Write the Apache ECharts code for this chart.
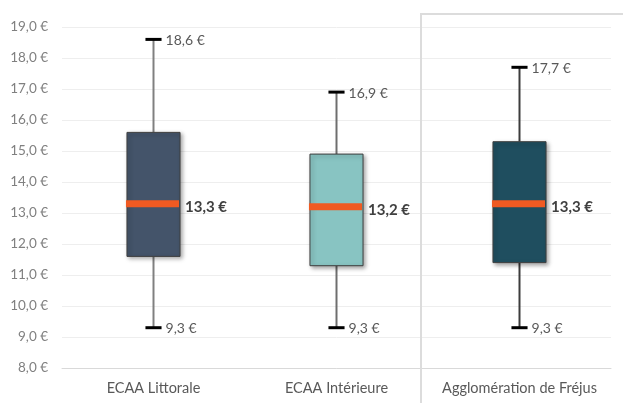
<!DOCTYPE html>
<html>
<head>
<meta charset="utf-8">
<script src="https://cdn.jsdelivr.net/npm/echarts@6/dist/echarts.min.js"></script>
<style>
  html, body { margin: 0; padding: 0; background: #fff; }
  #chart { width: 623px; height: 403px; }
</style>
</head>
<body>
<div id="chart"></div>
<script>
// Hourly price distribution per area (€)
const categories = ['ECAA Littorale', 'ECAA Intérieure', 'Agglomération de Fréjus'];
const minValues = [9.3, 9.3, 9.3];
const q1Values = [11.6, 11.3, 11.4];
const medianValues = [13.3, 13.2, 13.3];
const q3Values = [15.6, 14.9, 15.3];
const maxValues = [18.6, 16.9, 17.7];

const boxColors = ['#44546A', '#88C4C2', '#1F4E5F'];
const whiskerColors = ['#808080', '#6e6e6e', '#3c3c3c'];
const FONT = 'Lato, "Open Sans", sans-serif';

const euro = v => v.toFixed(1).replace('.', ',') + ' €';

const seriesData = categories.map((c, i) => [i, minValues[i], q1Values[i], medianValues[i], q3Values[i], maxValues[i]]);

function renderBox(params, api) {
  const i = api.value(0);
  const x = api.coord([i, 0])[0];
  const yMin = api.coord([i, api.value(1)])[1];
  const yQ1 = api.coord([i, api.value(2)])[1];
  const yMed = api.coord([i, api.value(3)])[1];
  const yQ3 = api.coord([i, api.value(4)])[1];
  const yMax = api.coord([i, api.value(5)])[1];
  const band = api.size([1, 0])[0];
  const boxW = band * 0.29;
  const capW = band * 0.088;
  const left = x - boxW / 2;
  const wc = whiskerColors[i];
  const labelX = x + capW / 2 + 4;
  return {
    type: 'group',
    children: [
      { type: 'line', shape: { x1: x, y1: yQ3, x2: x, y2: yMax }, style: { stroke: wc, lineWidth: 2 } },
      { type: 'line', shape: { x1: x, y1: yQ1, x2: x, y2: yMin }, style: { stroke: wc, lineWidth: 2 } },
      { type: 'line', shape: { x1: x - capW / 2, y1: yMax, x2: x + capW / 2, y2: yMax }, style: { stroke: '#000', lineWidth: 3 } },
      { type: 'line', shape: { x1: x - capW / 2, y1: yMin, x2: x + capW / 2, y2: yMin }, style: { stroke: '#000', lineWidth: 3 } },
      {
        type: 'rect',
        shape: { x: left, y: yQ3, width: boxW, height: yQ1 - yQ3 },
        style: {
          fill: boxColors[i], stroke: '#3f3f3f', lineWidth: 1,
          shadowBlur: 4, shadowOffsetX: 2, shadowOffsetY: 2, shadowColor: 'rgba(0,0,0,0.35)'
        }
      },
      { type: 'rect', shape: { x: left - 1, y: yMed - 3.5, width: boxW, height: 7 }, style: { fill: '#F05A22' } },
      { type: 'text', style: { text: euro(api.value(5)), x: labelX, y: yMax + 1, verticalAlign: 'middle', fill: '#595959', font: '14px ' + FONT } },
      { type: 'text', style: { text: euro(api.value(1)), x: labelX, y: yMin + 1, verticalAlign: 'middle', fill: '#595959', font: '14px ' + FONT } },
      { type: 'text', style: { text: euro(api.value(3)), x: left + boxW + 5, y: yMed + 3, verticalAlign: 'middle', fill: '#404040', font: 'bold 15px ' + FONT } }
    ]
  };
}

const chart = echarts.init(document.getElementById('chart'), null, { renderer: 'canvas' });
chart.setOption({
  animation: false,
  backgroundColor: '#ffffff',
  grid: { left: 62, right: 12, top: 27, bottom: 35, containLabel: false },
  xAxis: {
    type: 'category',
    data: categories,
    axisTick: { show: false },
    axisLine: { lineStyle: { color: '#d9d9d9', width: 1 } },
    axisLabel: { color: '#595959', fontSize: 14.5, fontFamily: FONT, margin: 13, interval: 0, hideOverlap: false }
  },
  yAxis: {
    type: 'value',
    min: 8, max: 19, interval: 1,
    axisLine: { show: false },
    axisTick: { show: false },
    axisLabel: { color: '#808080', fontSize: 13.5, fontFamily: FONT, margin: 14, formatter: v => euro(v) },
    splitLine: { lineStyle: { color: '#eeeeee', width: 1 } }
  },
  graphic: [{
    type: 'polyline',
    shape: { points: [[421, 403], [421, 14], [623, 14]] },
    style: { stroke: '#dcdcdc', lineWidth: 2, fill: null },
    z: 10
  }],
  series: [{
    type: 'custom',
    renderItem: renderBox,
    encode: { x: 0, y: [1, 2, 3, 4, 5] },
    data: seriesData,
    z: 5
  }]
});
</script>
</body>
</html>
